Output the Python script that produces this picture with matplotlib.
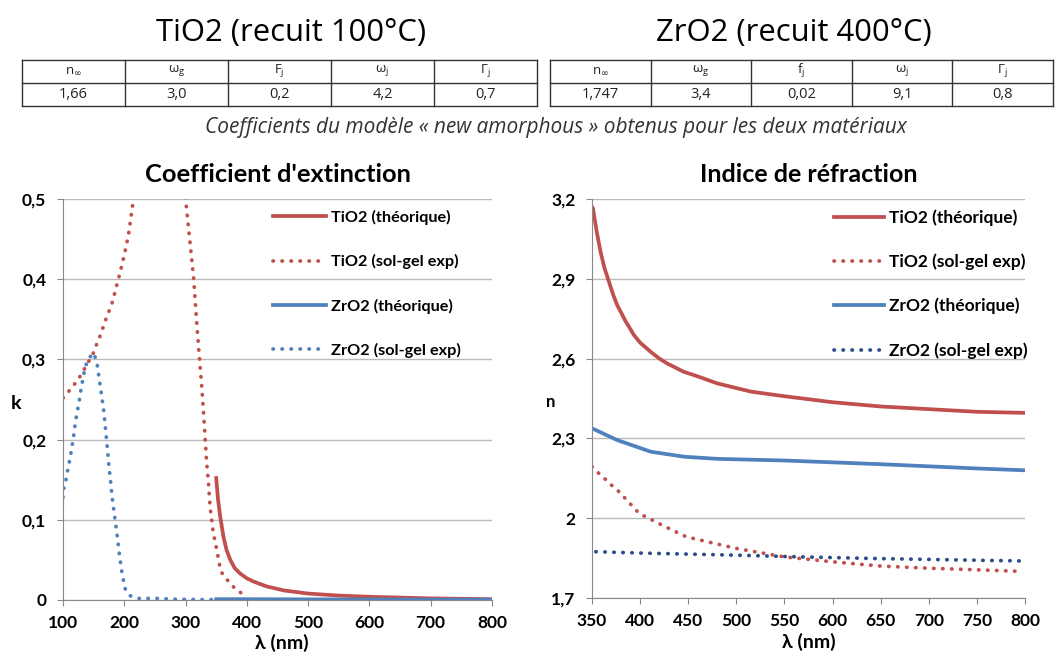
import matplotlib
matplotlib.use("Agg")
import matplotlib.pyplot as plt
from matplotlib.lines import Line2D
from matplotlib.ticker import FuncFormatter

plt.rcParams['font.family'] = ['Lato', 'DejaVu Sans']

RED = '#C0504D'
BLUE = '#4F81BD'
DBLUE = '#2C4D8A'

# ---------------- tables ----------------
tio2_title = "TiO2 (recuit 100°C)"
zro2_title = "ZrO2 (recuit 400°C)"
tio2_headers = ["n$_\\infty$", "ω$_\\mathregular{g}$", "F$_\\mathregular{j}$", "ω$_\\mathregular{j}$", "Γ$_\\mathregular{j}$"]
tio2_values = ["1,66", "3,0", "0,2", "4,2", "0,7"]
zro2_headers = ["n$_\\infty$", "ω$_\\mathregular{g}$", "f$_\\mathregular{j}$", "ω$_\\mathregular{j}$", "Γ$_\\mathregular{j}$"]
zro2_values = ["1,747", "3,4", "0,02", "9,1", "0,8"]
caption = "Coefficients du modèle « new amorphous » obtenus pour les deux matériaux"

# ---------------- extinction coefficient k ----------------
k_tio2_th_x = [350, 353, 356.5, 362, 367, 373, 380, 389, 400, 411, 432, 460, 500, 550, 600, 700, 800]
k_tio2_th_y = [0.152, 0.125, 0.104, 0.078, 0.062, 0.050, 0.040, 0.033, 0.027, 0.023, 0.017, 0.012, 0.008, 0.0055, 0.004, 0.002, 0.001]

k_tio2_exp_x = [100, 101.6, 112.5, 120.7, 128.9, 143, 149.5, 155, 160.4, 170, 180, 191, 200, 207, 215,
                230, 250, 270, 290, 300, 313, 319, 323.5, 326, 329, 331.7, 334.5, 337, 340, 345, 351, 354, 357, 363, 373, 381, 389, 395]
k_tio2_exp_y = [0.252, 0.253, 0.263, 0.271, 0.280, 0.299, 0.308, 0.319, 0.329, 0.350, 0.370, 0.402, 0.430, 0.456, 0.500,
                0.58, 0.63, 0.62, 0.56, 0.500, 0.403, 0.337, 0.293, 0.270, 0.237, 0.204, 0.170, 0.150, 0.116, 0.085, 0.062, 0.050, 0.037, 0.029, 0.021, 0.014, 0.010, 0.004]

k_zro2_exp_x = [100, 100.5, 104.4, 107, 112.5, 116.9, 120.7, 126, 130.4, 136, 141, 149.5, 155, 159, 163, 167, 171, 175, 178,
                181, 185, 188.6, 192, 196, 201, 209, 224, 253, 281, 320, 350]
k_zro2_exp_y = [0.128, 0.137, 0.148, 0.159, 0.181, 0.202, 0.224, 0.246, 0.267, 0.290, 0.300, 0.308, 0.298, 0.276, 0.255, 0.233, 0.200, 0.167, 0.145,
                0.123, 0.100, 0.079, 0.057, 0.035, 0.0146, 0.0054, 0.002, 0.002, 0.001, 0.0005, 0.0005]

k_zro2_th_x = [350, 400, 500, 600, 700, 800]
k_zro2_th_y = [0.001, 0.001, 0.0008, 0.0006, 0.0005, 0.0004]

# ---------------- refractive index n ----------------
n_tio2_th_x = [350, 351, 355, 359, 363, 367.6, 372, 376.3, 385, 393.5, 400, 410.8, 420, 428, 445, 460, 480, 515, 549, 600, 650, 700, 750, 800]
n_tio2_th_y = [3.17, 3.165, 3.075, 3.00, 2.94, 2.889, 2.84, 2.80, 2.74, 2.689, 2.66, 2.626, 2.60, 2.582, 2.551, 2.533, 2.507, 2.476, 2.459, 2.436, 2.42, 2.41, 2.40, 2.396]
n_zro2_th_x = [350, 376, 411, 446, 481, 549, 600, 650, 700, 750, 800]
n_zro2_th_y = [2.338, 2.294, 2.250, 2.231, 2.223, 2.217, 2.210, 2.203, 2.195, 2.187, 2.180]
n_tio2_exp_x = [350, 357, 364, 371, 378, 399, 425, 448, 499, 549, 600, 650, 700, 750, 797]
n_tio2_exp_y = [2.194, 2.169, 2.146, 2.122, 2.100, 2.018, 1.970, 1.930, 1.887, 1.855, 1.836, 1.820, 1.812, 1.806, 1.800]
n_zro2_exp_x = [354, 400, 450, 500, 550, 600, 650, 700, 750, 800]
n_zro2_exp_y = [1.874, 1.869, 1.865, 1.861, 1.856, 1.852, 1.848, 1.845, 1.842, 1.839]

labels = ["TiO2 (théorique)", "TiO2 (sol-gel exp)", "ZrO2 (théorique)", "ZrO2 (sol-gel exp)"]

W, H = 1058, 653
fig = plt.figure(figsize=(W / 100, H / 100), dpi=100)


def fx(px):
    return px / W


def fy(py):
    return 1 - py / H


OS = ['Open Sans', 'DejaVu Sans']
fig.text(fx(291), fy(33), tio2_title, ha='center', va='center', fontsize=22.3, family=OS)
fig.text(fx(794), fy(33), zro2_title, ha='center', va='center', fontsize=22.3, family=OS)


def draw_table(x0, x1, headers, values):
    y0, ym, y1 = 60, 83, 106
    n = len(headers)
    xs = [x0 + (x1 - x0) * i / n for i in range(n + 1)]
    for yy in (y0, ym, y1):
        fig.add_artist(Line2D([fx(x0), fx(x1)], [fy(yy), fy(yy)], color='#333333', lw=1.0))
    for xx in xs:
        fig.add_artist(Line2D([fx(xx), fx(xx)], [fy(y0), fy(y1)], color='#333333', lw=1.0))
    for i in range(n):
        cx = (xs[i] + xs[i + 1]) / 2
        fig.text(fx(cx), fy(71), headers[i], ha='center', va='center', fontsize=9.5, color='#222222', family=OS)
        fig.text(fx(cx), fy(95), values[i], ha='center', va='center', fontsize=10.5, color='#222222', family=OS)


draw_table(22, 537, tio2_headers, tio2_values)
draw_table(550, 1053, zro2_headers, zro2_values)
fig.text(fx(556), fy(128), caption, ha='center', va='center', fontsize=15, style='italic', color='#333333', family=OS)

comma = FuncFormatter(lambda v, p: ('%g' % round(v, 3)).replace('.', ','))

DOT = (0, (0.1, 2.3))


def style_ax(ax):
    for s in ('top', 'right'):
        ax.spines[s].set_visible(False)
    for s in ('left', 'bottom'):
        ax.spines[s].set_color('#888888')
    ax.yaxis.grid(True, color='#BBBBBB', lw=1)
    ax.set_axisbelow(True)
    ax.tick_params(axis='both', colors='#888888', length=4, labelsize=12.5)
    ax.tick_params(axis='x', pad=7)
    ax.tick_params(axis='y', pad=8)
    for lab in ax.get_xticklabels() + ax.get_yticklabels():
        lab.set_color('black')
        lab.set_fontweight('bold')
    ax.yaxis.set_major_formatter(comma)


def dotted(ax, x, y, color, label):
    ax.plot(x, y, color=color, lw=2.7, ls=DOT, dash_capstyle='round', label=label)


# ---------------- left panel ----------------
ax1 = fig.add_axes([fx(63), fy(600), fx(492) - fx(63), fy(199) - fy(600)])
ax1.plot(k_tio2_th_x, k_tio2_th_y, color=RED, lw=2.7, label=labels[0])
dotted(ax1, k_tio2_exp_x, k_tio2_exp_y, RED, labels[1])
ax1.plot(k_zro2_th_x, k_zro2_th_y, color=BLUE, lw=2.7, label=labels[2])
dotted(ax1, k_zro2_exp_x, k_zro2_exp_y, BLUE, labels[3])
ax1.set_xlim(100, 800)
ax1.set_ylim(0, 0.5)
ax1.set_xticks(range(100, 801, 100))
ax1.set_yticks([0, 0.1, 0.2, 0.3, 0.4, 0.5])
style_ax(ax1)
ax1.set_title("Coefficient d'extinction", fontsize=18.3, fontweight='bold', pad=12)
ax1.set_xlabel("λ (nm)", fontsize=14, fontweight='bold', va='center')
ax1.xaxis.set_label_coords(0.51, -0.106)
ax1.set_ylabel("k", fontsize=14, fontweight='bold', rotation=0, va='center', ha='center')
ax1.yaxis.set_label_coords(-0.11, 0.49)
ax1.legend(loc='upper left', bbox_to_anchor=(0.478, 0.985), borderaxespad=0, borderpad=0.3, frameon=False,
           labelspacing=1.8, handlelength=3.25, handletextpad=0.31, prop={'size': 11.7, 'weight': 'bold'})

# ---------------- right panel ----------------
ax2 = fig.add_axes([fx(592), fy(598), fx(1025) - fx(592), fy(199) - fy(598)])
ax2.plot(n_tio2_th_x, n_tio2_th_y, color=RED, lw=2.7, label=labels[0])
dotted(ax2, n_tio2_exp_x, n_tio2_exp_y, RED, labels[1])
ax2.plot(n_zro2_th_x, n_zro2_th_y, color=BLUE, lw=2.7, label=labels[2])
dotted(ax2, n_zro2_exp_x, n_zro2_exp_y, DBLUE, labels[3])
ax2.set_xlim(350, 800)
ax2.set_ylim(1.7, 3.2)
ax2.set_xticks(range(350, 801, 50))
ax2.set_yticks([1.7, 2.0, 2.3, 2.6, 2.9, 3.2])
style_ax(ax2)
ax2.set_title("Indice de réfraction", fontsize=18, fontweight='bold', pad=12)
ax2.set_xlabel("λ (nm)", fontsize=14, fontweight='bold', va='center')
ax2.xaxis.set_label_coords(0.5, -0.11)
ax2.set_ylabel("n", fontsize=12, fontweight='bold', rotation=0, va='center', ha='center')
ax2.yaxis.set_label_coords(-0.095, 0.49)
ax2.legend(loc='upper left', bbox_to_anchor=(0.547, 0.9875), borderaxespad=0, borderpad=0.3, frameon=False,
           labelspacing=1.6, handlelength=2.9, handletextpad=0.29, prop={'size': 12.5, 'weight': 'bold'})

fig.savefig("out.png", dpi=100)
